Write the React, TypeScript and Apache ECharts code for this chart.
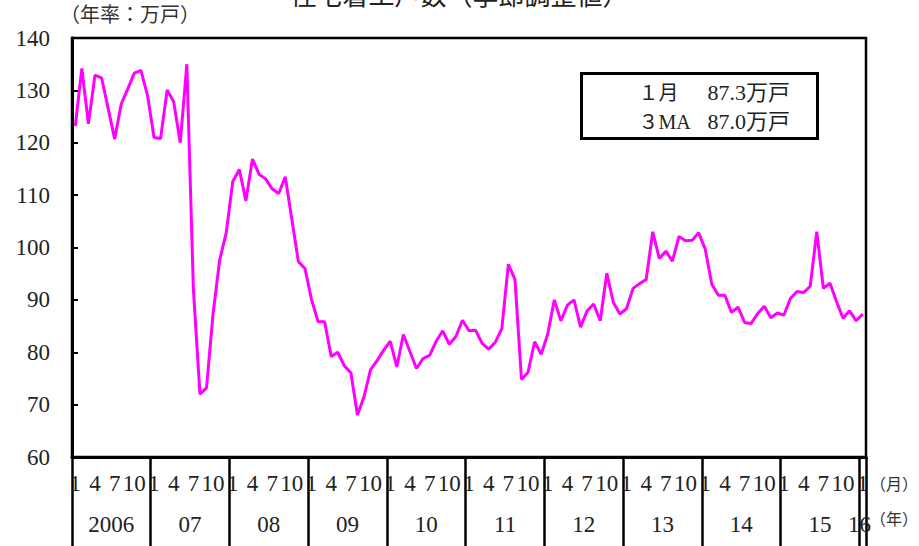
import React, { useEffect, useRef } from "react";
import * as echarts from "echarts";

const titleText = "住宅着工戸数（季節調整値）";
const yAxisTitle = "（年率：万戸）";
const yearLabels = ["2006", "07", "08", "09", "10", "11", "12", "13", "14", "15", "16"];
const monthTickLabels = ["1", "4", "7", "10"];
const yTicks = { min: 60, max: 140, step: 10 };

const starts: number[] = [
  123.2, 134.2, 123.6, 132.9, 132.4, 126.6, 120.7, 127.4, 130.3, 133.3, 133.8, 129.1,
  121.0, 120.8, 130.1, 127.8, 120.0, 135.0, 92.0, 72.0, 73.2, 87.4, 97.6, 102.8,
  112.6, 114.9, 108.9, 116.9, 114.0, 113.1, 111.2, 110.3, 113.5, 105.4, 97.3, 96.0,
  90.1, 85.8, 85.8, 79.2, 80.0, 77.4, 76.1, 68.0, 71.5, 76.7, 78.4, 80.4,
  82.1, 77.2, 83.4, 80.1, 76.9, 78.8, 79.4, 82.1, 84.1, 81.5, 83.0, 86.1,
  84.1, 84.2, 81.7, 80.6, 81.9, 84.5, 96.8, 93.9, 74.8, 76.2, 82.0, 79.6,
  83.5, 90.0, 86.0, 89.0, 90.0, 84.8, 87.9, 89.2, 86.0, 95.1, 89.5, 87.3,
  88.3, 92.2, 93.1, 93.9, 103.0, 97.9, 99.3, 97.4, 102.1, 101.3, 101.4, 102.8,
  99.7, 93.0, 90.9, 90.9, 87.6, 88.6, 85.7, 85.5, 87.4, 88.8, 86.6, 87.5,
  87.1, 90.3, 91.6, 91.4, 92.6, 103.0, 92.2, 93.2, 89.7, 86.5, 87.9, 86.0,
  87.3,
];

const boxLines = [
  { left: "１月", right: "87.3万戸" },
  { left: "３MA", right: "87.0万戸" },
];

const categories: string[] = starts.map((_, i) => {
  const y = Math.floor(i / 12);
  const m = (i % 12) + 1;
  return `${yearLabels[y]}-${m}`;
});

const SERIF = "'Liberation Serif', 'Noto Sans CJK JP', serif";
const CJK = "'Liberation Serif', 'Noto Sans CJK JP', sans-serif";

export default function App() {
  const ref = useRef<HTMLDivElement>(null);
  useEffect(() => {
    if (!ref.current) return;
    document.body.style.margin = "0";
    const chart = echarts.init(ref.current, undefined, { renderer: "svg" });
    const n = starts.length;
    chart.setOption({
      animation: false,
      backgroundColor: "#ffffff",
      title: {
        text: titleText,
        left: "center",
        top: -25,
        textStyle: { fontSize: 26, fontWeight: "normal", color: "#222", fontFamily: "'Noto Sans CJK JP', sans-serif" },
      },
      grid: {
        left: 72,
        right: 53,
        top: 38,
        bottom: 89,
        show: true,
        borderColor: "#000",
        borderWidth: 2.5,
        backgroundColor: "transparent",
      },
      xAxis: [
        {
          type: "category",
          data: categories,
          boundaryGap: true,
          position: "bottom",
          axisLine: { show: true, lineStyle: { color: "#000", width: 3 } },
          axisTick: {
            show: true,
            interval: (i: number) => i % 12 === 0,
            length: 90,
            lineStyle: { color: "#000", width: 2.5 },
          },
          axisLabel: {
            interval: (i: number) => i % 3 === 0,
            formatter: (_v: string, i: number) => monthTickLabels[(i % 12) / 3] ?? "",
            fontFamily: SERIF,
            fontSize: 23,
            color: "#222",
            margin: 15,
          },
          splitLine: { show: false },
        },
        {
          type: "value",
          position: "bottom",
          min: 0,
          max: n,
          interval: 6,
          axisLine: { show: false },
          axisTick: { show: false },
          splitLine: { show: false },
          axisLabel: {
            formatter: (v: number) => {
              if (v % 12 === 6) return yearLabels[(v - 6) / 12];
              if (v === 120) return yearLabels[10];
              return "";
            },
            fontFamily: SERIF,
            fontSize: 23,
            color: "#222",
            margin: 56,
          },
        },
      ],
      yAxis: {
        type: "value",
        min: yTicks.min,
        max: yTicks.max,
        interval: yTicks.step,
        axisLine: { show: true, lineStyle: { color: "#000", width: 3 } },
        axisTick: { show: true, inside: true, length: 6, lineStyle: { color: "#000", width: 2 } },
        axisLabel: { fontFamily: SERIF, fontSize: 23, color: "#222", margin: 22 },
        splitLine: { show: false },
      },
      series: [
        {
          type: "line",
          xAxisIndex: 0,
          data: starts,
          symbol: "none",
          lineStyle: { color: "#FF00FF", width: 3 },
          itemStyle: { color: "#FF00FF" },
        },
      ],
      graphic: [
        {
          type: "text",
          left: 60,
          top: 5,
          style: { text: yAxisTitle, font: `20px ${CJK}`, fill: "#333" },
        },
        {
          type: "text",
          left: 870,
          top: 476,
          style: { text: "（月）", font: `16px ${CJK}`, fill: "#333" },
        },
        {
          type: "text",
          left: 870,
          top: 511,
          style: { text: "（年）", font: `16px ${CJK}`, fill: "#333" },
        },
        {
          type: "group",
          left: 580,
          top: 72,
          children: [
            {
              type: "rect",
              shape: { x: 0, y: 0, width: 236, height: 65 },
              style: { fill: "#fff", stroke: "#000", lineWidth: 3 },
            },
            ...boxLines.flatMap((ln, k) => [
              {
                type: "text",
                x: 57,
                y: 9 + k * 29,
                style: { text: ln.left, font: `20px ${CJK}`, fill: "#222" },
              },
              {
                type: "text",
                x: 126,
                y: 8 + k * 29,
                style: { text: ln.right, font: `22px ${CJK}`, fill: "#222" },
              },
            ]),
          ],
        },
      ],
    });
    return () => chart.dispose();
  }, []);
  return <div ref={ref} style={{ width: 919, height: 546 }} />;
}
